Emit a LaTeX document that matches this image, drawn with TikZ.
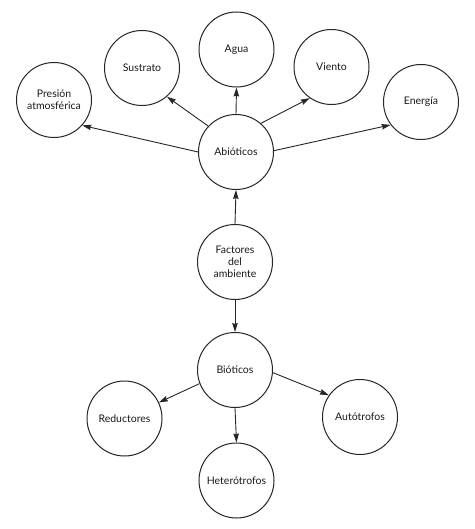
\documentclass[tikz,border=0pt]{standalone}
\usepackage{fontspec}
\setmainfont{Lato}
\usetikzlibrary{arrows.meta}
\begin{document}
\begin{tikzpicture}[x=1pt,y=-1pt,
  bubble/.style={circle,draw=black!85,line width=1pt,minimum size=75pt,inner sep=0pt,
    align=center,font=\fontsize{10.5}{12}\selectfont,text=black!90},
  link/.style={draw=black!85,line width=0.9pt,-{Stealth[length=9pt,width=5.5pt,inset=1pt]}}]
\useasboundingbox (0,0) rectangle (474,529);
\node[bubble] (pres) at (54,100) {Presión\\atmosférica};
\node[bubble] (sust) at (142,68) {Sustrato};
\node[bubble] (agua) at (236.5,49.5) {Agua};
\node[bubble] (vien) at (331.5,67) {Viento};
\node[bubble] (ener) at (421,102) {Energía};
\node[bubble] (abio) at (236,152) {Abióticos};
\node[bubble] (fact) at (235,262) {Factores\\del\\ambiente};
\node[bubble] (biot) at (235,370) {Bióticos};
\node[bubble] (redu) at (124.5,418.5) {Reductores};
\node[bubble] (auto) at (360,417) {Autótrofos};
\node[bubble] (hete) at (236.5,480.5) {Heterótrofos};
\draw[link] (abio.180) -- (pres.-42);
\draw[link] (abio.137) -- (sust.-49);
\draw[link] (abio.north) -- (agua.south);
\draw[link] (abio.49) -- (vien.-125);
\draw[link] (abio.2) -- (ener.-143);
\draw[link] (fact.north) -- (abio.south);
\draw[link] (fact.south) -- (biot.north);
\draw[link] (biot.201) -- (redu.25);
\draw[link] (biot.-4) -- (auto.145);
\draw[link] (biot.south) -- (hete.north);
\end{tikzpicture}
\end{document}
